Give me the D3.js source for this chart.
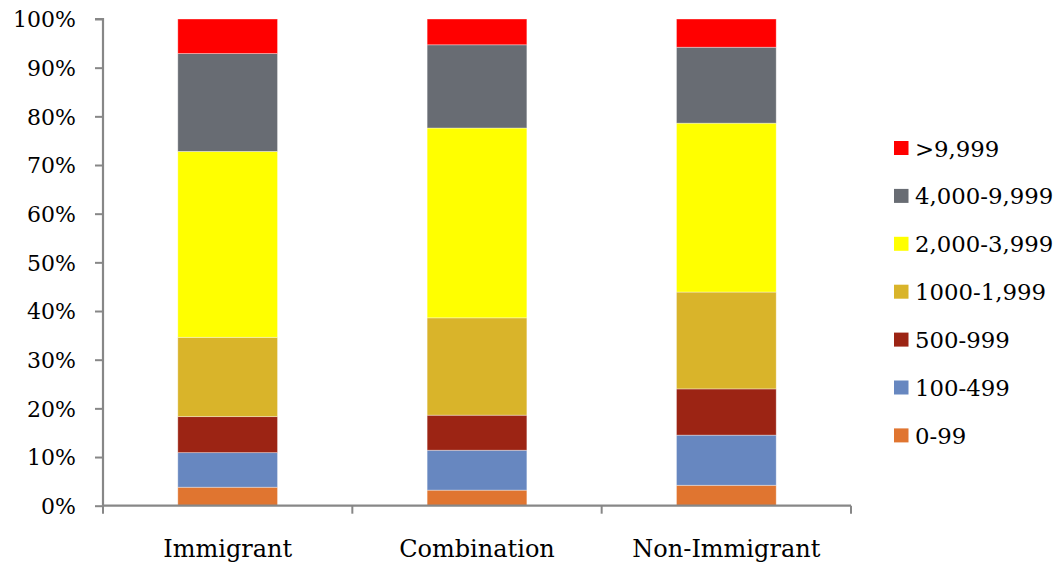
<!DOCTYPE html>
<html>
<head>
<meta charset="utf-8">
<script src="https://cdn.jsdelivr.net/npm/d3@7"></script>
<style>
  html, body { margin: 0; padding: 0; background: #fff; }
  svg { display: block; }
  text { font-family: "DejaVu Serif", "Liberation Serif", serif; fill: #000; }
</style>
</head>
<body>
<svg id="chart" width="1060" height="564"></svg>
<script>
// Household groups along the x axis
const categories = ["Immigrant", "Combination", "Non-Immigrant"];

// Size bands, bottom of the stack first
const bands = ["0-99", "100-499", "500-999", "1000-1,999", "2,000-3,999", "4,000-9,999", ">9,999"];

// Share (%) of each band per group, same order as bands
const immigrant    = [3.8, 7.1, 7.4, 16.3, 38.2, 20.1, 7.1];
const combination  = [3.2, 8.2, 7.2, 20.0, 39.0, 17.1, 5.3];
const nonImmigrant = [4.2, 10.3, 9.5, 19.9, 34.7, 15.6, 5.8];

const yTicks = [0, 10, 20, 30, 40, 50, 60, 70, 80, 90, 100];

const colors = ["#E07530", "#6787C0", "#9C2414", "#D9B42A", "#FFFF00", "#686C73", "#FF0000"];

const seriesByCategory = [immigrant, combination, nonImmigrant];
const rows = categories.map((c, i) => {
  const r = { category: c };
  bands.forEach((b, j) => { r[b] = seriesByCategory[i][j]; });
  return r;
});

const svg = d3.select("#chart");
const plot = { left: 103, right: 851, top: 19, bottom: 505.7 };

const x = d3.scaleBand().domain(categories).range([plot.left, plot.right]).padding(0);
const y = d3.scaleLinear().domain([0, 100]).range([plot.bottom, plot.top]);
const color = d3.scaleOrdinal().domain(bands).range(colors);

const barWidth = x.bandwidth() * 0.4;
const stacked = d3.stack().keys(bands)(rows);

// Stacked bars
svg.append("g")
  .selectAll("g")
  .data(stacked)
  .join("g")
    .attr("fill", d => color(d.key))
  .selectAll("rect")
  .data(d => d)
  .join("rect")
    .attr("x", d => x(d.data.category) + (x.bandwidth() - barWidth) / 2)
    .attr("y", d => y(d[1]))
    .attr("width", barWidth)
    .attr("height", d => y(d[0]) - y(d[1]))
    .attr("stroke", "rgba(255,255,255,0.45)")
    .attr("stroke-width", 0.8);

const axisColor = "#878787";

// Y axis
const yAxis = svg.append("g")
  .attr("transform", `translate(${plot.left},0)`)
  .call(d3.axisLeft(y).tickValues(yTicks).tickFormat(d => d + "%").tickSize(8).tickPadding(19));
yAxis.select(".domain").attr("stroke", axisColor).attr("stroke-width", 2.2)
  .attr("d", `M-8,${plot.top}H0V${plot.bottom}`);
yAxis.selectAll(".tick line").attr("stroke", axisColor).attr("stroke-width", 2);
yAxis.selectAll(".tick text")
  .attr("font-size", 22)
  .attr("font-family", "DejaVu Serif, serif")
  .attr("dy", "0.36em")
  .attr("fill", "#000");

// X axis with ticks at category boundaries
const xAxis = svg.append("g")
  .attr("transform", `translate(0,${plot.bottom})`);
xAxis.append("path")
  .attr("d", `M${plot.left},0H${plot.right}`)
  .attr("stroke", axisColor).attr("stroke-width", 2.2).attr("fill", "none");
const boundaries = categories.map(c => x(c)).concat([x(categories[categories.length - 1]) + x.bandwidth()]);
xAxis.selectAll("line.cat-tick")
  .data(boundaries)
  .join("line")
    .attr("class", "cat-tick")
    .attr("x1", d => d).attr("x2", d => d)
    .attr("y1", 0).attr("y2", 8)
    .attr("stroke", axisColor).attr("stroke-width", 2);
xAxis.selectAll("text.cat-label")
  .data(categories)
  .join("text")
    .attr("class", "cat-label")
    .attr("x", d => x(d) + x.bandwidth() / 2)
    .attr("y", 51)
    .attr("text-anchor", "middle")
    .attr("font-size", 24)
    .text(d => d);

// Legend, top entry is the top of the stack
const legendItems = bands.slice().reverse();
const legend = svg.append("g").attr("transform", "translate(894,141)");
const item = legend.selectAll("g")
  .data(legendItems)
  .join("g")
    .attr("transform", (d, i) => `translate(0,${i * 47.9})`);
item.append("rect")
  .attr("width", 14.5).attr("height", 14)
  .attr("fill", d => color(d));
item.append("text")
  .attr("x", 21)
  .attr("y", 15.5)
  .attr("font-size", 22.8)
  .text(d => d);
</script>
</body>
</html>
